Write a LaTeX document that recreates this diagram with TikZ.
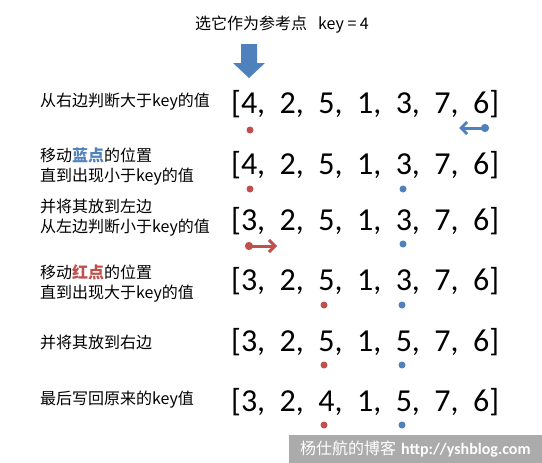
\documentclass[tikz,border=0pt]{standalone}
\usepackage{fontspec}
\setmainfont{Carlito}
\newfontfamily\cjk{Noto Sans CJK SC}
\usetikzlibrary{arrows.meta}

\definecolor{keyblue}{HTML}{4F81BD}
\definecolor{keyred}{HTML}{C0504D}
\definecolor{markgray}{HTML}{ABABAB}

\begin{document}
\begin{tikzpicture}[x=1pt, y=-1pt,
    hint/.style = {anchor=west, inner sep=0pt, align=left,
                   font=\cjk\fontsize{16}{20}\selectfont},
    row/.style = {anchor=base west, inner sep=0pt,
                  font=\fontsize{32}{38}\selectfont},
    reddot/.style = {circle, fill=keyred, inner sep=0pt, minimum size=7pt},
    bluedot/.style = {circle, fill=keyblue, inner sep=0pt, minimum size=7pt},
    mover/.style = {line width=3pt,
                    {Circle[length=8pt]}-{Straight Barb[length=6pt,width=12pt]}}]

    \useasboundingbox (0,0) rectangle (542,463);


    \node[font=\cjk\fontsize{16}{20}\selectfont] (title) at (282,25)
        {选它作为参考点\hspace{11pt}key = 4};

    \fill[keyblue] (241,44) -- (257,44) -- (257,63) -- (265,63)
        -- (249,78) -- (233,63) -- (241,63) -- cycle;


    \node[hint] (h1) at (40,102) {从右边判断大于key的值};
    \node[hint] (h2) at (40,167) {移动{\bfseries\color{keyblue}蓝点}的位置\\直到出现小于key的值};
    \node[hint] (h3) at (40,218) {并将其放到左边\\从左边判断小于key的值};
    \node[hint] (h4) at (40,283) {移动{\bfseries\color{keyred}红点}的位置\\直到出现大于key的值};
    \node[hint] (h5) at (40,342) {并将其放到右边};
    \node[hint] (h6) at (40,400) {最后写回原来的key值};


    \node[row] (a1) at (231,113.5) {[4,\ \ 2,\ \ 5,\ \ 1,\ \ 3,\ \ 7,\ \ 6]};
    \node[row] (a2) at (231,174.5) {[4,\ \ 2,\ \ 5,\ \ 1,\ \ 3,\ \ 7,\ \ 6]};
    \node[row] (a3) at (231,230) {[3,\ \ 2,\ \ 5,\ \ 1,\ \ 3,\ \ 7,\ \ 6]};
    \node[row] (a4) at (231,290) {[3,\ \ 2,\ \ 5,\ \ 1,\ \ 3,\ \ 7,\ \ 6]};
    \node[row] (a5) at (231,351) {[3,\ \ 2,\ \ 5,\ \ 1,\ \ 5,\ \ 7,\ \ 6]};
    \node[row] (a6) at (231,411) {[3,\ \ 2,\ \ 4,\ \ 1,\ \ 5,\ \ 7,\ \ 6]};


    \node[reddot] (r1) at (250,130) {};
    \coordinate (b1tail) at (489,128);
    \coordinate (b1tip) at (459,128);

    \node[reddot] (r2) at (250,189) {};
    \node[bluedot] (b2) at (403,189) {};

    \coordinate (r3tail) at (245,246);
    \coordinate (r3tip) at (277,246);
    \node[bluedot] (b3) at (403,244) {};

    \node[reddot] (r4) at (324,305) {};
    \node[bluedot] (b4) at (402,305) {};

    \node[reddot] (r5) at (324,365) {};
    \node[bluedot] (b5) at (402,365) {};

    \node[reddot] (r6) at (324,425) {};
    \node[bluedot] (b6) at (402,425) {};


    \draw[mover, keyblue] (b1tail) to (b1tip);
    \draw[mover, keyred] (r3tail) to (r3tip);


    \node[fill=markgray, text=white, anchor=south east, inner sep=0pt,
          minimum width=253pt, minimum height=28pt] (blog) at (542,463)
        {{\cjk\fontsize{16}{20}\selectfont 杨仕航的博客}\hspace{5pt}{\fontsize{16}{20}\selectfont\bfseries http://yshblog.com}};
\end{tikzpicture}
\end{document}
